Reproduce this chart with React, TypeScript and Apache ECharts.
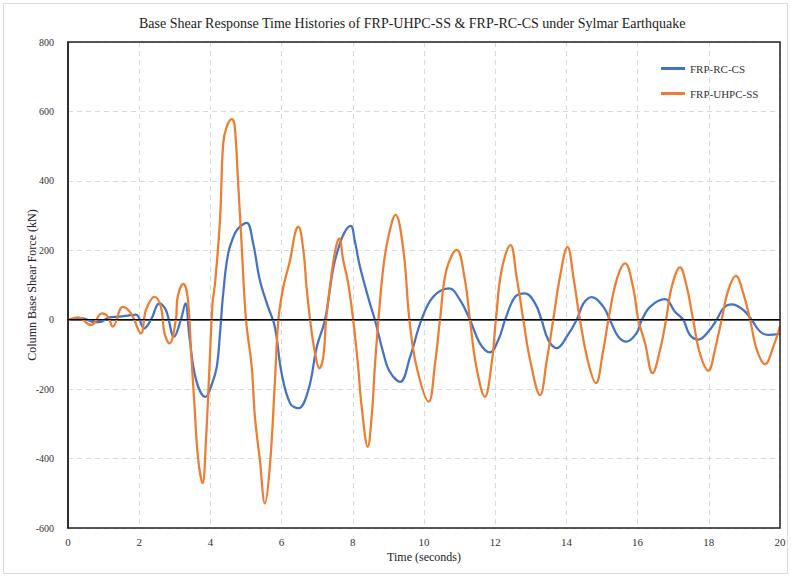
import React, { useEffect, useRef } from "react";
import * as echarts from "echarts";

const TITLE = "Base Shear Response Time Histories of FRP-UHPC-SS & FRP-RC-CS under Sylmar Earthquake";
const X_NAME = "Time (seconds)";
const Y_NAME = "Column Base Shear Force (kN)";
const SERIES_NAMES = ["FRP-RC-CS", "FRP-UHPC-SS"];

const rcTime = [
  0, 0.41, 0.69, 0.88, 1.16, 1.44, 1.68, 1.91, 2.14, 2.33, 2.57, 2.75, 2.98, 3.17, 3.3, 3.41, 3.6, 3.86,
  4.05, 4.18, 4.27, 4.36, 4.5, 4.69, 4.83, 5.02, 5.2, 5.39, 5.62, 5.81, 6.0, 6.24, 6.47, 6.75, 6.99, 7.22,
  7.46, 7.64, 7.78, 7.94, 8.06, 8.2, 8.48, 8.62, 8.86, 9.04, 9.33, 9.61, 9.93, 10.26, 10.71, 11.01, 11.29,
  11.57, 11.85, 12.09, 12.28, 12.56, 12.84, 13.12, 13.3, 13.49, 13.73, 14.01, 14.29, 14.48, 14.71, 15.04,
  15.22, 15.46, 15.69, 15.97, 16.1, 16.35, 16.77, 17.05, 17.28, 17.47, 17.71, 17.99, 18.22, 18.41, 18.64,
  18.97, 19.2, 19.44, 19.67, 20,
];
const rcValue = [
  0, 4, -6, -7, 7, 9, 12, 15, -25, 0, 47, 28, -49, 0, 47, -49, -174, -222,
  -183, -135, -39, 76, 191, 249, 268, 279, 220, 114, 37, -20, -154, -241, -255, -203, -78, 0,
  153, 220, 254, 270, 225, 153, 47, 0, -97, -150, -179, -107, 0, 66, 90, 57, 0,
  -68, -94, -58, 0, 66, 76, 47, 0, -58, -82, -49, 0, 47, 65, 37,
  0, -49, -63, -39, -5, 37, 59, 23, 0, -44, -57, -34, 0, 33, 44,
  28, 0, -34, -44, -41,
];

const uhpcTime = [
  0, 0.27, 0.65, 0.96, 1.12, 1.26, 1.54, 1.77, 2.05, 2.19, 2.43, 2.61, 2.71, 2.85, 3.03, 3.08, 3.24, 3.36,
  3.46, 3.55, 3.65, 3.78, 3.88, 3.97, 4.06, 4.13, 4.27, 4.36, 4.46, 4.6, 4.68, 4.78, 4.87, 5.0, 5.16, 5.25,
  5.39, 5.53, 5.67, 5.81, 5.91, 6.05, 6.24, 6.38, 6.47, 6.61, 6.7, 6.8, 6.94, 7.06, 7.17, 7.25, 7.37, 7.51,
  7.62, 7.73, 7.87, 8.01, 8.15, 8.25, 8.42, 8.53, 8.62, 8.72, 8.86, 9.0, 9.2, 9.42, 9.59, 9.79, 10.13,
  10.31, 10.45, 10.63, 10.92, 11.15, 11.29, 11.47, 11.71, 11.9, 12.02, 12.18, 12.43, 12.6, 12.79, 12.98,
  13.26, 13.45, 13.63, 13.82, 14.03, 14.21, 14.38, 14.62, 14.83, 15.02, 15.18, 15.41, 15.65, 15.87, 16.02,
  16.21, 16.42, 16.63, 16.8, 16.96, 17.19, 17.38, 17.56, 17.75, 17.99, 18.17, 18.36, 18.55, 18.76, 18.97,
  19.16, 19.35, 19.58, 19.81, 20,
];
const uhpcValue = [
  0, 7, -15, 18, 9, -20, 37, 18, -39, 28, 66, 37, -39, -68, 0, 66, 103, 66,
  -97, -241, -395, -471, -337, -145, 47, 105, 287, 508, 556, 578, 560, 393, 230, 0, -135, -279,
  -404, -529, -423, -183, 0, 95, 172, 250, 268, 201, 95, 0, -97, -140, -107, 0, 105, 201,
  234, 172, 105, 0, -135, -251, -366, -279, -135, 0, 153, 239, 302, 201, 0, -135, -236,
  -126, 0, 143, 201, 114, 0, -135, -222, -126, 0, 143, 215, 124, 0, -116,
  -217, -116, 0, 124, 210, 114, 0, -126, -183, -97, 0, 114, 162, 95, 0,
  -68, -154, -87, 0, 95, 151, 95, 0, -97, -147, -87, 0, 86, 126, 76,
  0, -87, -128, -78, -18,
];

const X_MIN = 0, X_MAX = 20, X_STEP = 2;
const Y_MIN = -600, Y_MAX = 800, Y_STEP = 200;

const pairs = (t: number[], v: number[]) => t.map((x, i) => [x, v[i]]);

export default function App() {
  const ref = useRef<HTMLDivElement>(null);
  useEffect(() => {
    if (!ref.current) return;
    const chart = echarts.init(ref.current, undefined, { renderer: "svg" });
    const font = "'Liberation Serif', 'Times New Roman', serif";
    chart.setOption({
      animation: false,
      backgroundColor: "#fff",
      textStyle: { fontFamily: font },
      title: {
        text: TITLE,
        left: 134,
        top: 11,
        textStyle: { fontFamily: font, fontSize: 14, fontWeight: "normal", color: "#222" },
      },
      graphic: [
        {
          type: "rect",
          shape: { x: 3.5, y: 3.5, width: 784, height: 570 },
          style: { fill: "none", stroke: "#d9d9d9", lineWidth: 1 },
          silent: true,
          z: 0,
        },
        {
          type: "rect",
          shape: { x: 68, y: 42, width: 712, height: 486 },
          style: { fill: "none", stroke: "#222", lineWidth: 1.5 },
          silent: true,
          z: 100,
        },
      ],
      legend: {
        orient: "vertical",
        left: 656,
        top: 58,
        itemGap: 14,
        itemWidth: 24,
        itemHeight: 3,
        icon: "rect",
        textStyle: { fontFamily: font, fontSize: 11, color: "#333" },
        data: SERIES_NAMES,
      },
      grid: {
        left: 68,
        right: 11,
        top: 42,
        bottom: 49,
      },
      xAxis: {
        type: "value",
        min: X_MIN,
        max: X_MAX,
        interval: X_STEP,
        name: X_NAME,
        nameLocation: "middle",
        nameGap: 23,
        nameMoveOverlap: false,
        nameTextStyle: { fontFamily: font, fontSize: 12, color: "#222" },
        axisLine: { show: true, lineStyle: { color: "#222", width: 1.5 } },
        axisTick: { show: false },
        axisLabel: { fontFamily: font, fontSize: 11, color: "#333", margin: 8 },
        splitLine: { show: true, lineStyle: { color: "#d9d9d9", type: [5, 4], width: 1 } },
      },
      yAxis: {
        type: "value",
        min: Y_MIN,
        max: Y_MAX,
        interval: Y_STEP,
        name: Y_NAME,
        nameLocation: "middle",
        nameGap: 30,
        nameMoveOverlap: false,
        nameTextStyle: { fontFamily: font, fontSize: 12, color: "#222" },
        axisLine: { show: true, lineStyle: { color: "#222", width: 1.5 } },
        axisTick: { show: false },
        axisLabel: { fontFamily: font, fontSize: 10, color: "#333", margin: 14 },
        splitLine: { show: true, lineStyle: { color: "#d9d9d9", type: [5, 4], width: 1 } },
      },
      series: [
        {
          name: SERIES_NAMES[0],
          type: "line",
          data: pairs(rcTime, rcValue),
          showSymbol: false,
          smooth: 0.4,
          lineStyle: { color: "#4472C4", width: 2.25 },
          itemStyle: { color: "#4472C4" },
          z: 3,
          markLine: {
            silent: true,
            symbol: "none",
            label: { show: false },
            lineStyle: { color: "#000", width: 1.2, type: "solid" },
            data: [{ yAxis: 0 }],
          },
        },
        {
          name: SERIES_NAMES[1],
          type: "line",
          data: pairs(uhpcTime, uhpcValue),
          showSymbol: false,
          smooth: 0.4,
          lineStyle: { color: "#ED7D31", width: 2.25 },
          itemStyle: { color: "#ED7D31" },
          z: 4,
        },
      ],
    });
    return () => chart.dispose();
  }, []);
  return <div ref={ref} style={{ width: 791, height: 577, position: "absolute", left: 0, top: 0 }} />;
}
